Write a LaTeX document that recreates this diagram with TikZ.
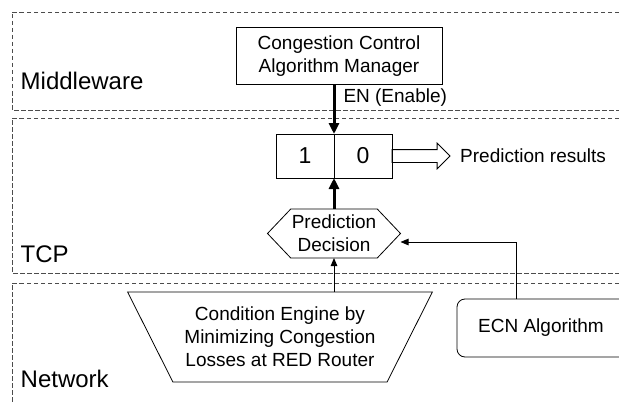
\documentclass[tikz,border=0pt]{standalone}
\usepackage{fontspec}
\setmainfont{Liberation Sans}
\usetikzlibrary{arrows.meta,positioning,shapes.geometric,shapes.symbols,shapes.arrows}

\begin{document}
\begin{tikzpicture}[%
    x=1pt, y=-1pt,
    layer/.style={draw=black!70, line width=0.8pt, dash pattern=on 4.5pt off 2.5pt},
    lbl/.style={anchor=base west, inner sep=0pt, font={\fontsize{24}{28}\selectfont}},
    base/.style={draw, line width=0.8pt, align=center, inner sep=0pt, outer sep=0pt, font={\fontsize{19}{23}\selectfont}},
    proc/.style={base, rectangle, minimum width=206pt, minimum height=57pt},
    bit/.style={base, rectangle, minimum width=58pt, minimum height=44pt, font={\fontsize{23}{27}\selectfont}},
    fat/.style={-{Triangle[length=11pt,width=10pt]}, line width=3pt},
    link/.style={-{Triangle[length=8pt,width=6.5pt]}, line width=1pt}
    ]

    \useasboundingbox (0,0) rectangle (619,404);

    % layers
    \draw[layer] (619,12) -- (12,12) -- (12,110) -- (619,110);
    \draw[layer] (619,118) -- (12,118) -- (12,273) -- (619,273);
    \draw[layer] (619,283) -- (12,283) -- (12,404);

    \node at (20.5,89) [lbl] (mid) {Middleware};
    \node at (20.5,262) [lbl] (tcp) {TCP};
    \node at (20.5,387) [lbl] (net) {Network};

    \node at (339,56) [proc] (ccam) {Congestion Control\\Algorithm Manager};

    \node at (305,156) [bit] (bitone) {1};
    \node [bit, right=0pt of bitone] (bitzero) {0};
        \draw[fat] (bitone.north east |- ccam.south) -- (bitone.north east) node [pos=0.26, anchor=west, xshift=8pt, inner sep=0pt, font={\fontsize{19}{23}\selectfont}] (en) {EN (Enable)};

    \node at (bitzero.east) [single arrow, draw, line width=0.8pt, anchor=tail, inner sep=0pt, outer sep=0pt, text height=12pt, text depth=0pt, minimum height=58pt, single arrow head extend=6.5pt, single arrow head indent=0pt] (res) {};
    \node [right=10pt of res, inner sep=0pt, font={\fontsize{19}{23}\selectfont}] (restext) {Prediction results};

    \node at (334,233.5) [base, signal, signal to=east and west, signal pointer angle=93, minimum width=133pt, minimum height=49pt] (decide) {Prediction\\Decision};
        \draw[fat] (decide.north) -- (decide.north |- bitone.south);

    \node at (280,337) [base, trapezium, trapezium left angle=124, trapezium right angle=124, trapezium stretches=true, minimum width=306pt, minimum height=90pt] (engine) {Condition Engine by\\Minimizing Congestion\\Losses at RED Router};
        \draw[link] (decide.south |- engine.north) -- (decide.south);

    % box runs off the right edge
    \node at (557,328) [base, rectangle, rounded corners=8pt, minimum width=200pt, minimum height=58pt] (ecn) {ECN Algorithm\hspace*{32pt}};
        \draw[link] ([xshift=-41pt]ecn.north) |- ([yshift=-8.5pt]decide.east);

\end{tikzpicture}
\end{document}
